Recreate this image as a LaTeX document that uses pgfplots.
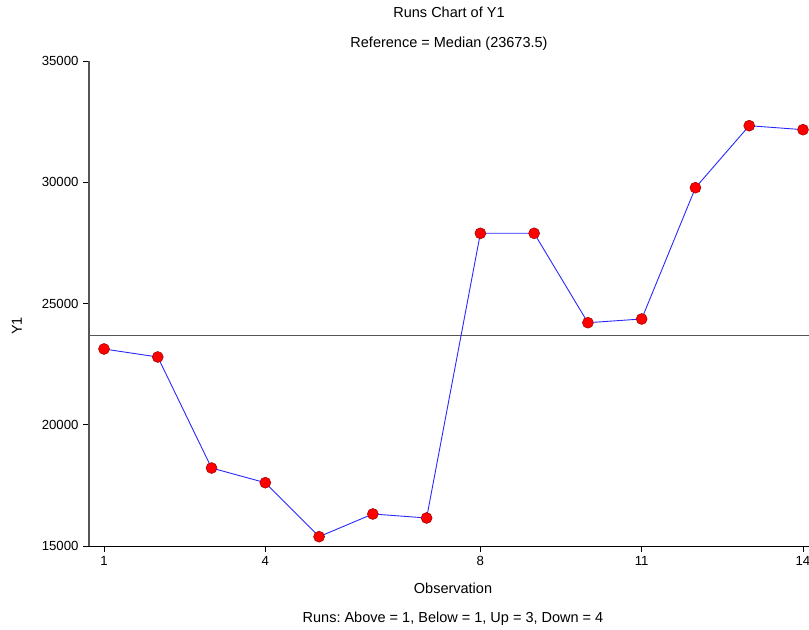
\documentclass[border=0pt]{standalone}
\usepackage{pgfplots}
\pgfplotsset{compat=1.18}
\usepackage{fontspec}
\setmainfont{Liberation Sans}
\frenchspacing
\definecolor{lineblue}{RGB}{40,40,255}
\definecolor{medgray}{RGB}{85,85,85}
\begin{document}
\begin{tikzpicture}[font=\fontsize{14.5bp}{17bp}\selectfont]
\useasboundingbox (0,0) rectangle (809bp,630bp);
\begin{axis}[
  at={(89bp,84bp)}, anchor=south west,
  scale only axis, width=720bp, height=485bp,
  xmin=0.721, xmax=14.112, ymin=15000, ymax=35000,
  axis lines=left,
  axis line style={-},
  x axis line style={black, line width=0.9pt},
  y axis line style={medgray, line width=1.2pt},
  xtick={1,4,8,11,14},
  ytick={15000,20000,25000,30000,35000},
  tick align=outside,
  major tick length=6bp,
  tick style={black, line width=0.6pt},
  scaled y ticks=false,
  /pgf/number format/assume math mode=true,
  /pgf/number format/set thousands separator={},
  tick label style={font=\fontsize{13.2bp}{15bp}\selectfont},
  yticklabel style={xshift=-1bp},
  xticklabel style={yshift=-1bp},
  clip=false,
]
\addplot[medgray, line width=1.2pt] coordinates {(0.721,23673.5) (14.112,23673.5)};
\addplot[lineblue, line width=0.9pt, mark=*, mark size=5.5bp,
  mark options={fill=red, draw=red!60!black, line width=0.5pt}] coordinates {
(1,23124) (2,22794) (3,18216) (4,17610) (5,15384) (6,16320) (7,16155)
(8,27895) (9,27895) (10,24208) (11,24361) (12,29775) (13,32332) (14,32167)
};
\end{axis}
\node at (449bp,618bp) {Runs Chart of Y1};
\node at (449bp,586bp) {Reference = Median (23673.5)};
\node at (453bp,42bp) {Observation};
\node at (453bp,11bp) {Runs: Above = 1, Below = 1, Up = 3, Down = 4};
\node[rotate=90] at (17bp,304bp) {Y1};
\end{tikzpicture}
\end{document}
